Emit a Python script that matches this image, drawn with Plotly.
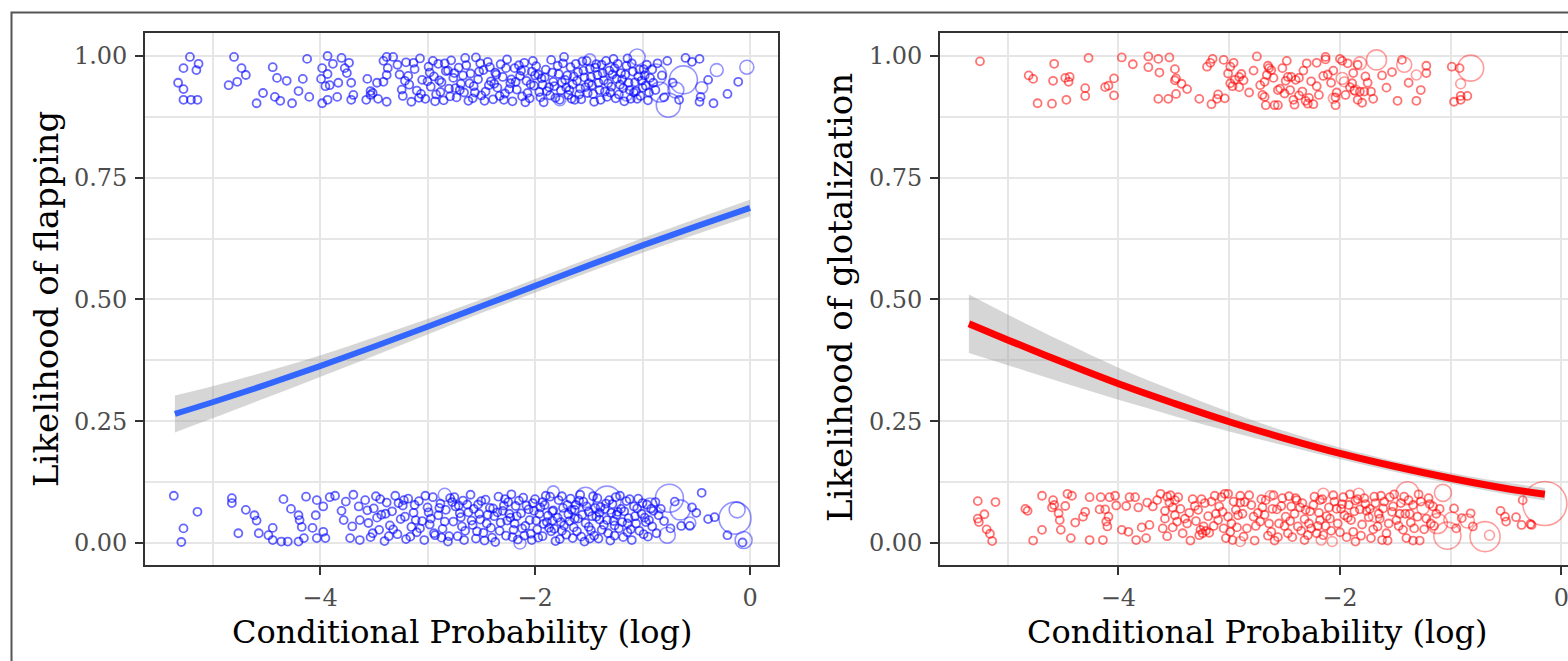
import plotly.graph_objects as go

W, H = 1568, 661
FONT = "DejaVu Serif"

# ---------------- Left panel: flapping ----------------
flap_top = [
    (-5.21, 0.998), (-5.27, 0.975), (-5.15, 0.971), (-5.13, 0.984), (-5.32, 0.945), (-5.27, 0.932),
    (-5.27, 0.910), (-5.20, 0.910), (-5.14, 0.910), (-4.80, 0.998), (-4.73, 0.975), (-4.69, 0.961),
    (-4.77, 0.947), (-4.85, 0.940), (-4.59, 0.903), (-4.53, 0.924), (-4.44, 0.977), (-4.40, 0.955),
    (-4.31, 0.949), (-4.42, 0.916), (-4.37, 0.908), (-4.26, 0.903), (-4.20, 0.928), (-4.16, 0.953),
    (-4.12, 0.994), (-4.10, 0.916), (-3.98, 0.975), (-3.93, 1.000), (-3.93, 0.963), (-3.99, 0.953),
    (-3.95, 0.938), (-3.91, 0.940), (-3.83, 0.945), (-3.88, 0.984), (-3.80, 0.996), (-3.73, 0.986),
    (-3.77, 0.975), (-3.75, 0.965), (-3.71, 0.945), (-3.69, 0.920), (-3.71, 0.910), (-3.98, 0.903),
    (-3.93, 0.910), (-3.84, 0.916), (-3.56, 0.953), (-3.57, 0.910), (-3.53, 0.920), (-3.51, 0.924),
    (-3.46, 0.912), (-3.38, 0.906), (-3.53, 0.928), (-3.47, 0.945), (-3.41, 0.947), (-3.38, 0.961),
    (-3.37, 0.975), (-3.41, 0.990), (-3.38, 0.998), (-3.32, 0.998), (-3.28, 0.982),
    (-3.26, 0.962), (-3.23, 0.918), (-3.20, 0.987), (-3.17, 0.941), (-3.15, 0.906), (-3.12, 0.973),
    (-3.10, 0.929), (-3.07, 0.995), (-3.05, 0.951), (-3.02, 0.912), (-2.99, 0.978), (-2.97, 0.937),
    (-2.94, 0.958), (-2.92, 0.921), (-2.90, 0.984), (-2.87, 0.946), (-2.85, 0.909), (-2.83, 0.969),
    (-2.80, 0.933), (-2.78, 0.991), (-2.76, 0.955), (-2.73, 0.915), (-2.71, 0.976), (-2.69, 0.943),
    (-2.66, 0.925), (-2.64, 0.981), (-2.62, 0.908), (-2.60, 0.964), (-2.57, 0.938), (-2.55, 0.997),
    (-2.53, 0.952), (-2.50, 0.919), (-2.48, 0.971), (-2.46, 0.927), (-2.44, 0.988), (-2.41, 0.948),
    (-2.39, 0.911), (-2.37, 0.966), (-2.35, 0.935), (-2.32, 0.983), (-2.30, 0.957), (-2.28, 0.923),
    (-2.26, 0.993), (-2.23, 0.944), (-2.21, 0.907), (-2.19, 0.975), (-2.17, 0.931), (-2.14, 0.959),
    (-2.12, 0.917), (-2.10, 0.986), (-2.08, 0.949), (-2.05, 0.913), (-2.03, 0.968), (-2.01, 0.939),
    (-1.99, 0.979), (-1.96, 0.926), (-1.94, 0.954), (-1.92, 0.905), (-1.90, 0.972), (-1.87, 0.936),
    (-1.85, 0.992), (-1.83, 0.947), (-1.81, 0.914), (-1.78, 0.963), (-1.76, 0.929), (-1.74, 0.985),
    (-1.72, 0.951), (-1.69, 0.920), (-1.67, 0.977), (-1.65, 0.942), (-1.63, 0.910), (-1.60, 0.967),
    (-1.58, 0.933), (-1.56, 0.989), (-1.54, 0.956), (-1.51, 0.924), (-1.49, 0.974), (-1.47, 0.940),
    (-1.45, 0.906), (-1.42, 0.961), (-1.40, 0.930), (-1.38, 0.982), (-1.36, 0.950), (-1.33, 0.916),
    (-1.31, 0.970), (-1.29, 0.937), (-1.27, 0.994), (-1.24, 0.953), (-1.22, 0.921), (-1.20, 0.965),
    (-1.18, 0.934), (-1.15, 0.980), (-1.13, 0.945), (-1.11, 0.912), (-1.09, 0.968), (-1.06, 0.928),
    (-1.04, 0.958), (-1.02, 0.918), (-0.99, 0.973), (-0.97, 0.939), (-0.95, 0.909), (-0.93, 0.955),
    (-3.24, 0.931), (-3.18, 0.959), (-3.08, 0.914), (-3.00, 0.948), (-2.95, 0.990), (-2.88, 0.926),
    (-2.81, 0.970), (-2.74, 0.934), (-2.67, 0.960), (-2.58, 0.913), (-2.51, 0.985), (-2.43, 0.940),
    (-2.36, 0.962), (-2.29, 0.910), (-2.22, 0.952), (-2.15, 0.981), (-2.07, 0.924), (-2.00, 0.960),
    (-1.93, 0.941), (-1.86, 0.919), (-1.79, 0.980), (-1.71, 0.935), (-1.64, 0.958), (-1.57, 0.911),
    (-1.50, 0.944), (-1.43, 0.983), (-1.35, 0.927), (-1.28, 0.962), (-1.21, 0.941), (-1.14, 0.995),
    (-1.08, 0.925), (-1.01, 0.949), (-0.96, 0.982),
    (-3.21, 0.949), (-3.13, 0.986), (-3.06, 0.922), (-2.98, 0.966), (-2.93, 0.907), (-2.89, 0.950),
    (-2.84, 0.985), (-2.79, 0.917), (-2.75, 0.965), (-2.70, 0.930), (-2.65, 0.996), (-2.61, 0.944),
    (-2.56, 0.925), (-2.52, 0.968), (-2.47, 0.908), (-2.42, 0.977), (-2.38, 0.943), (-2.33, 0.918),
    (-2.27, 0.975), (-2.24, 0.932), (-2.18, 0.947), (-2.13, 0.970), (-2.09, 0.905), (-2.04, 0.942),
    (-2.02, 0.990), (-1.97, 0.962), (-1.95, 0.915), (-1.91, 0.956), (-1.89, 0.928), (-1.84, 0.966),
    (-1.82, 0.938), (-1.77, 0.910), (-1.75, 0.946), (-1.73, 0.998), (-1.70, 0.960), (-1.68, 0.930),
    (-1.66, 0.912), (-1.62, 0.984), (-1.61, 0.949), (-1.59, 0.921), (-1.55, 0.970), (-1.53, 0.936),
    (-1.52, 0.990), (-1.48, 0.957), (-1.46, 0.922), (-1.44, 0.976), (-1.41, 0.945), (-1.39, 0.910),
    (-1.37, 0.965), (-1.34, 0.990), (-1.32, 0.944), (-1.30, 0.925), (-1.26, 0.975), (-1.25, 0.913),
    (-1.23, 0.984), (-1.19, 0.952), (-1.17, 0.907), (-1.16, 0.962), (-1.12, 0.930), (-1.10, 0.985),
    (-1.07, 0.946), (-1.05, 0.912), (-1.03, 0.972), (-1.00, 0.935), (-0.98, 0.960), (-0.94, 0.925),
    (-0.91, 0.972), (-0.90, 0.945),
    (-0.88, 0.930), (-0.82, 0.960), (-0.77, 0.990), (-0.72, 0.945), (-0.66, 0.910), (-0.86, 0.985),
    (-0.80, 0.915), (-0.60, 0.996), (-0.54, 0.988), (-0.47, 0.994), (-0.39, 0.951), (-0.21, 0.922),
    (-0.34, 0.903), (-0.47, 0.906), (-0.46, 0.916), (-0.11, 0.947),
]

flap_bottom = [
    (-5.36, 0.097), (-5.14, 0.064), (-5.27, 0.030), (-5.29, 0.002), (-4.82, 0.092), (-4.82, 0.082),
    (-4.69, 0.068), (-4.61, 0.057), (-4.59, 0.046), (-4.76, 0.020), (-4.57, 0.020), (-4.48, 0.016),
    (-4.44, 0.031), (-4.34, 0.090), (-4.27, 0.070), (-4.20, 0.057), (-4.19, 0.047), (-4.44, 0.006),
    (-4.36, 0.003), (-4.30, 0.003), (-4.20, 0.003), (-4.15, 0.010), (-4.13, 0.095), (-4.03, 0.088),
    (-4.04, 0.057), (-4.17, 0.033), (-4.07, 0.031), (-3.97, 0.023), (-4.03, 0.010), (-3.95, 0.010),
    (-3.97, 0.075), (-3.91, 0.094), (-3.86, 0.097), (-3.80, 0.066), (-3.76, 0.085), (-3.78, 0.047),
    (-3.69, 0.099), (-3.64, 0.075), (-3.70, 0.034), (-3.63, 0.047), (-3.72, 0.010), (-3.63, 0.006),
    (-3.58, 0.088), (-3.55, 0.041), (-3.53, 0.012), (-3.50, 0.071), (-3.48, 0.096), (-3.45, 0.027),
    (-3.43, 0.058), (-3.40, 0.004), (-3.38, 0.083), (-3.35, 0.036), (-3.33, 0.065), (-3.30, 0.097),
    (-3.28, 0.018), (-3.25, 0.049), (-3.23, 0.077), (-3.20, 0.008), (-3.18, 0.091), (-3.15, 0.033),
    (-3.13, 0.062), (-3.10, 0.022), (-3.08, 0.086), (-3.05, 0.045), (-3.03, 0.006), (-3.00, 0.073),
    (-2.98, 0.038), (-2.95, 0.094), (-2.93, 0.016), (-2.90, 0.057), (-2.88, 0.081), (-2.86, 0.029),
    (-2.83, 0.068), (-2.81, 0.003), (-2.79, 0.092), (-2.76, 0.044), (-2.74, 0.075), (-2.72, 0.014),
    (-2.69, 0.053), (-2.67, 0.087), (-2.65, 0.025), (-2.62, 0.063), (-2.60, 0.099), (-2.58, 0.037),
    (-2.55, 0.009), (-2.53, 0.079), (-2.51, 0.048), (-2.48, 0.021), (-2.46, 0.089), (-2.44, 0.058),
    (-2.41, 0.031), (-2.39, 0.071), (-2.37, 0.002), (-2.34, 0.095), (-2.32, 0.042), (-2.30, 0.066),
    (-2.27, 0.015), (-2.25, 0.084), (-2.23, 0.052), (-2.20, 0.027), (-2.18, 0.076), (-2.16, 0.007),
    (-2.13, 0.061), (-2.11, 0.093), (-2.09, 0.035), (-2.06, 0.069), (-2.04, 0.019), (-2.02, 0.082),
    (-1.99, 0.046), (-1.97, 0.011), (-1.95, 0.073), (-1.92, 0.039), (-1.90, 0.097), (-1.88, 0.056),
    (-1.85, 0.024), (-1.83, 0.067), (-1.81, 0.004), (-1.78, 0.088), (-1.76, 0.043), (-1.74, 0.072),
    (-1.71, 0.017), (-1.69, 0.059), (-1.67, 0.091), (-1.64, 0.032), (-1.62, 0.078), (-1.60, 0.050),
    (-1.57, 0.013), (-1.55, 0.085), (-1.53, 0.041), (-1.50, 0.064), (-1.48, 0.026), (-1.46, 0.096),
    (-1.43, 0.054), (-1.41, 0.009), (-1.39, 0.074), (-1.36, 0.037), (-1.34, 0.081), (-1.32, 0.020),
    (-1.29, 0.062), (-1.27, 0.045), (-1.25, 0.094), (-1.22, 0.030), (-1.20, 0.070), (-1.18, 0.012),
    (-1.15, 0.086), (-1.13, 0.051), (-1.11, 0.028), (-1.08, 0.075), (-1.06, 0.040), (-1.04, 0.091),
    (-1.01, 0.060), (-0.99, 0.018), (-0.96, 0.079), (-0.94, 0.047), (-0.91, 0.034), (-0.88, 0.084),
    (-0.85, 0.057),
    (-3.47, 0.052), (-3.36, 0.014), (-3.22, 0.088), (-3.11, 0.047), (-2.99, 0.063), (-2.87, 0.011),
    (-2.77, 0.084), (-2.68, 0.034), (-2.57, 0.070), (-2.47, 0.005), (-2.38, 0.055), (-2.28, 0.090),
    (-2.19, 0.040), (-2.10, 0.015), (-2.01, 0.066), (-1.93, 0.084), (-1.84, 0.046), (-1.75, 0.025),
    (-1.66, 0.068), (-1.58, 0.099), (-1.49, 0.009), (-1.40, 0.048), (-1.31, 0.088), (-1.23, 0.064),
    (-1.14, 0.022), (-1.05, 0.071), (-0.97, 0.043), (-0.90, 0.066), (-2.24, 0.060), (-1.87, 0.031),
    (-1.63, 0.050), (-1.44, 0.072), (-1.26, 0.015), (-2.52, 0.060), (-2.71, 0.077),
    (-3.56, 0.067), (-3.51, 0.020), (-3.44, 0.090), (-3.39, 0.060), (-3.32, 0.028), (-3.27, 0.082),
    (-3.21, 0.054), (-3.16, 0.013), (-3.12, 0.078), (-3.07, 0.030), (-3.02, 0.097), (-2.97, 0.050),
    (-2.94, 0.020), (-2.89, 0.072), (-2.84, 0.044), (-2.80, 0.014), (-2.75, 0.094), (-2.70, 0.061),
    (-2.66, 0.006), (-2.63, 0.079), (-2.59, 0.046), (-2.54, 0.024), (-2.50, 0.086), (-2.45, 0.040),
    (-2.42, 0.072), (-2.40, 0.011), (-2.35, 0.063), (-2.33, 0.025), (-2.29, 0.077), (-2.26, 0.046),
    (-2.22, 0.100), (-2.21, 0.012), (-2.17, 0.055), (-2.15, 0.087), (-2.12, 0.030), (-2.08, 0.077),
    (-2.05, 0.047), (-2.03, 0.006), (-2.00, 0.090), (-1.98, 0.028), (-1.96, 0.060), (-1.93, 0.014),
    (-1.91, 0.078), (-1.89, 0.043), (-1.86, 0.095), (-1.84, 0.065), (-1.82, 0.029), (-1.79, 0.052),
    (-1.77, 0.008), (-1.75, 0.096), (-1.73, 0.036), (-1.70, 0.078), (-1.68, 0.045), (-1.65, 0.010),
    (-1.63, 0.068), (-1.61, 0.024), (-1.59, 0.087), (-1.56, 0.058), (-1.54, 0.003), (-1.52, 0.075),
    (-1.50, 0.033), (-1.47, 0.055), (-1.45, 0.015), (-1.42, 0.092), (-1.40, 0.062), (-1.38, 0.027),
    (-1.35, 0.070), (-1.33, 0.047), (-1.30, 0.005), (-1.28, 0.080), (-1.26, 0.036), (-1.24, 0.058),
    (-1.21, 0.097), (-1.19, 0.043), (-1.17, 0.065), (-1.14, 0.040), (-1.12, 0.090), (-1.10, 0.006),
    (-1.07, 0.055), (-1.03, 0.025), (-1.00, 0.082), (-0.98, 0.052), (-0.95, 0.013), (-0.92, 0.070),
    (-0.87, 0.020), (-0.83, 0.070), (-0.80, 0.045), (-0.74, 0.030), (-0.70, 0.085),
    (-0.45, 0.103), (-0.39, 0.049), (-0.33, 0.053), (-0.54, 0.073), (-0.50, 0.062), (-0.64, 0.035),
    (-0.56, 0.035), (-0.07, 0.001), (-0.21, 0.016),
]

# (x, y, token count) for the heavier items
flap_big = [
    (-1.05, 0.998, 5.2), (-0.84, 0.926, 8.2), (-0.76, 0.899, 11.8), (-0.88, 0.961, 9.9),
    (-0.62, 0.951, 16.0), (-1.30, 0.971, 4.0), (-1.49, 0.992, 2.9), (-0.31, 0.971, 3.4),
    (-0.03, 0.977, 4.0), (-1.77, 0.910, 2.9), (-0.69, 0.930, 5.2), (-1.15, 0.920, 2.9),
    (-2.10, 0.970, 2.0), (-0.45, 0.935, 2.9),
    (-1.33, 0.088, 16.0), (-1.53, 0.094, 8.2), (-0.75, 0.092, 16.0), (-0.65, 0.068, 8.2),
    (-0.14, 0.051, 20.9), (-0.06, 0.006, 5.9), (-0.12, 0.068, 5.2), (-0.77, 0.016, 5.2),
    (-1.83, 0.105, 2.9), (-2.84, 0.099, 3.4), (-2.14, 0.000, 2.9), (-1.72, 0.057, 2.9),
    (-0.56, 0.041, 2.9), (-0.93, 0.078, 4.0),
]

flap_fit_x = [-5.35, -5.0, -4.5, -4.0, -3.5, -3.0, -2.5, -2.0, -1.5, -1.0, -0.5, 0.0]
flap_fit_y = [0.265, 0.289, 0.325, 0.363, 0.403, 0.444, 0.486, 0.528, 0.570, 0.611, 0.650, 0.688]
flap_fit_lo = [0.227, 0.256, 0.298, 0.341, 0.384, 0.428, 0.472, 0.514, 0.556, 0.596, 0.634, 0.671]
flap_fit_hi = [0.303, 0.322, 0.352, 0.385, 0.422, 0.460, 0.500, 0.542, 0.584, 0.626, 0.666, 0.705]

# ---------------- Right panel: glottalization ----------------
glot_top = [
    (-5.25, 0.989), (-4.81, 0.960), (-4.77, 0.953), (-4.58, 0.984), (-4.59, 0.949), (-4.48, 0.955),
    (-4.44, 0.957), (-4.45, 0.947), (-4.73, 0.903), (-4.60, 0.902), (-4.47, 0.910), (-4.30, 0.918),
    (-4.30, 0.934), (-4.27, 0.996), (-4.12, 0.936), (-4.09, 0.939), (-4.04, 0.954), (-4.04, 0.919),
    (-3.97, 0.997), (-3.87, 0.983), (-3.73, 0.999), (-3.73, 0.977), (-3.64, 0.994), (-3.54, 0.997),
    (-3.49, 0.973), (-3.63, 0.966), (-3.48, 0.954), (-3.49, 0.950), (-3.43, 0.943), (-3.38, 0.932),
    (-3.48, 0.922), (-3.55, 0.912), (-3.64, 0.912), (-3.27, 0.912), (-3.20, 0.978), (-3.17, 0.986),
    (-3.15, 0.994), (-3.05, 0.992), (-2.96, 0.986), (-3.16, 0.901), (-3.11, 0.912), (-3.10, 0.921),
    (-3.04, 0.913), (-2.99, 0.978), (-3.01, 0.964), (-2.99, 0.944), (-2.95, 0.951), (-2.91, 0.957),
    (-2.89, 0.963), (-2.97, 0.938), (-2.91, 0.936), (-2.75, 0.999), (-2.65, 0.980), (-2.66, 0.961),
    (-2.68, 0.947), (-2.64, 0.975), (-2.62, 0.971), (-2.70, 0.920), (-2.68, 0.916), (-2.67, 0.899),
    (-2.59, 0.899), (-2.56, 0.899), (-2.56, 0.930), (-2.54, 0.933), (-2.50, 0.923), (-2.49, 0.949),
    (-2.47, 0.957), (-2.44, 0.957), (-2.40, 0.951), (-2.37, 0.955), (-2.48, 0.990), (-2.41, 0.900),
    (-2.42, 0.910), (-2.37, 0.919), (-2.34, 0.927), (-2.31, 0.908), (-2.29, 0.902), (-2.24, 0.901),
    (-2.28, 0.914), (-2.21, 0.938), (-2.30, 0.985), (-2.21, 0.986), (-2.15, 0.959), (-2.13, 0.993),
    (-2.13, 0.998), (-2.11, 0.962), (-2.04, 0.915), (-2.04, 0.899), (-2.03, 0.925), (-2.00, 0.994),
    (-1.98, 0.990), (-1.93, 0.985), (-1.91, 0.936), (-1.89, 0.944), (-1.87, 0.929), (-1.84, 0.982),
    (-1.82, 0.927), (-1.78, 0.927), (-1.77, 0.958), (-1.80, 0.904), (-1.72, 0.927), (-1.53, 0.967),
    (-1.48, 0.908), (-1.44, 0.992), (-1.31, 0.908), (-1.22, 0.980), (-1.22, 0.965), (-0.99, 0.978),
    (-0.92, 0.975), (-0.97, 0.906), (-0.91, 0.910), (-0.85, 0.918), (-0.91, 0.918), (-1.84, 0.910),
    (-2.87, 0.950), (-2.82, 0.925), (-2.78, 0.970), (-2.72, 0.940), (-2.60, 0.955), (-2.52, 0.975),
    (-2.45, 0.930), (-2.33, 0.970), (-2.26, 0.948), (-2.19, 0.920), (-2.08, 0.945), (-2.06, 0.970),
    (-1.95, 0.920), (-1.88, 0.965), (-1.75, 0.945), (-1.70, 0.912), (-1.62, 0.960), (-1.58, 0.935),
    (-1.38, 0.945), (-1.27, 0.930),
]

glot_bottom = [
    (-5.27, 0.086), (-5.11, 0.084), (-5.21, 0.059), (-5.27, 0.050), (-5.26, 0.043), (-5.19, 0.028),
    (-5.16, 0.019), (-5.14, 0.004), (-4.84, 0.070), (-4.82, 0.066), (-4.77, 0.005), (-4.69, 0.097),
    (-4.59, 0.088), (-4.58, 0.078), (-4.60, 0.073), (-4.54, 0.061), (-4.53, 0.047), (-4.52, 0.027),
    (-4.69, 0.027), (-4.48, 0.076), (-4.46, 0.101), (-4.42, 0.097), (-4.43, 0.010), (-4.39, 0.042),
    (-4.32, 0.054), (-4.30, 0.064), (-4.26, 0.094), (-4.26, 0.006), (-4.17, 0.069), (-4.12, 0.069),
    (-4.16, 0.094), (-4.08, 0.094), (-4.14, 0.006), (-4.03, 0.097), (-4.11, 0.044), (-4.09, 0.054),
    (-4.10, 0.034), (-4.02, 0.077), (-3.93, 0.076), (-3.90, 0.094), (-3.85, 0.094), (-3.97, 0.027),
    (-3.91, 0.023), (-3.79, 0.032), (-3.84, 0.006), (-3.75, 0.010), (-3.72, 0.037), (-3.82, 0.073),
    (-3.74, 0.083), (-3.69, 0.075), (-3.65, 0.088), (-3.62, 0.101), (-3.56, 0.095), (-3.58, 0.066),
    (-3.60, 0.030), (-3.54, 0.083), (-3.51, 0.073), (-3.49, 0.057), (-3.47, 0.044), (-3.51, 0.032),
    (-3.56, 0.014), (-3.49, 0.088), (-3.46, 0.094), (-3.35, 0.005), (-3.27, 0.016), (-3.24, 0.020),
    (-3.21, 0.025), (-3.26, 0.027), (-3.18, 0.021), (-3.23, 0.034), (-3.28, 0.068), (-3.31, 0.076),
    (-3.22, 0.082), (-3.16, 0.085), (-3.13, 0.097), (-3.07, 0.094), (-3.04, 0.101), (-3.01, 0.101),
    (-3.10, 0.047), (-3.01, 0.054), (-3.06, 0.064), (-2.94, 0.068), (-2.92, 0.057), (-2.98, 0.040),
    (-2.99, 0.023), (-3.03, 0.010), (-2.87, 0.013), (-2.90, 0.083), (-2.86, 0.084), (-2.80, 0.078),
    (-2.78, 0.054), (-2.77, 0.005), (-2.72, 0.044), (-2.70, 0.073), (-2.67, 0.088), (-2.59, 0.005),
    (-2.62, 0.023), (-2.57, 0.069), (-2.52, 0.092), (-2.49, 0.054), (-2.47, 0.020), (-2.44, 0.075),
    (-2.39, 0.088), (-2.36, 0.073), (-2.32, 0.049), (-2.29, 0.016), (-2.38, 0.034), (-2.26, 0.030),
    (-2.21, 0.020), (-2.15, 0.016), (-2.18, 0.047), (-2.18, 0.088), (-2.10, 0.073), (-2.05, 0.085),
    (-1.97, 0.094), (-1.96, 0.057), (-1.92, 0.078), (-1.90, 0.047), (-1.88, 0.023), (-1.82, 0.069),
    (-1.78, 0.092), (-1.74, 0.053), (-1.72, 0.010), (-1.68, 0.082), (-1.66, 0.034), (-1.63, 0.097),
    (-1.61, 0.071), (-1.55, 0.094), (-1.53, 0.064), (-1.49, 0.047), (-1.45, 0.082), (-1.43, 0.027),
    (-1.38, 0.088), (-1.34, 0.078), (-1.30, 0.054), (-1.40, 0.010), (-1.34, 0.005), (-1.28, 0.005),
    (-1.20, 0.092), (-1.18, 0.040), (-0.97, 0.071), (-0.90, 0.051), (-0.82, 0.061), (-0.80, 0.034),
    (-0.55, 0.066), (-0.51, 0.054), (-0.41, 0.053), (-0.36, 0.037), (-0.35, 0.088), (-0.28, 0.039),
    (-0.50, 0.044), (-0.27, 0.037),
    (-3.40, 0.050), (-3.33, 0.090), (-3.12, 0.060), (-2.96, 0.085), (-2.84, 0.030), (-2.74, 0.062),
    (-2.65, 0.015), (-2.55, 0.040), (-2.46, 0.096), (-2.41, 0.060), (-2.34, 0.082), (-2.27, 0.065),
    (-2.23, 0.095), (-2.20, 0.035), (-2.12, 0.055), (-2.08, 0.025), (-2.02, 0.040), (-1.99, 0.070),
    (-1.94, 0.012), (-1.86, 0.087), (-1.80, 0.038), (-1.76, 0.066), (-1.70, 0.028), (-1.64, 0.050),
    (-1.58, 0.020), (-1.51, 0.100), (-1.47, 0.035), (-1.41, 0.060), (-1.36, 0.042), (-1.27, 0.085),
    (-1.24, 0.028), (-1.16, 0.075), (-1.13, 0.060), (-2.60, 0.098), (-2.90, 0.097), (-3.38, 0.040),
    (-2.32, 0.006), (-1.86, 0.003), (-1.57, 0.005), (-1.62, 0.006),
    (-3.58, 0.050), (-3.53, 0.098), (-3.44, 0.070), (-3.42, 0.020), (-3.36, 0.062), (-3.30, 0.045),
    (-3.25, 0.090), (-3.19, 0.055), (-3.14, 0.035), (-3.09, 0.075), (-3.05, 0.030), (-2.97, 0.006),
    (-2.93, 0.032), (-2.88, 0.060), (-2.82, 0.098), (-2.76, 0.035), (-2.71, 0.090), (-2.68, 0.058),
    (-2.64, 0.040), (-2.61, 0.070), (-2.56, 0.012), (-2.53, 0.076), (-2.50, 0.035), (-2.45, 0.045),
    (-2.43, 0.012), (-2.40, 0.092), (-2.35, 0.025), (-2.31, 0.068), (-2.28, 0.040), (-2.24, 0.078),
    (-2.19, 0.062), (-2.16, 0.090), (-2.13, 0.035), (-2.09, 0.050), (-2.06, 0.098), (-2.03, 0.070),
    (-2.00, 0.022), (-1.98, 0.080), (-1.93, 0.052), (-1.91, 0.100), (-1.87, 0.065), (-1.84, 0.090),
    (-1.81, 0.015), (-1.77, 0.080), (-1.73, 0.070), (-1.69, 0.095), (-1.65, 0.060), (-1.60, 0.085),
    (-1.56, 0.040), (-1.52, 0.075), (-1.46, 0.060), (-1.42, 0.095), (-1.37, 0.060), (-1.33, 0.030),
    (-1.29, 0.100), (-1.22, 0.050), (-1.19, 0.080), (-1.15, 0.035), (-1.10, 0.070), (-0.95, 0.030),
]

glot_big = [
    (-1.67, 0.992, 8.2), (-1.42, 0.982, 4.6), (-0.82, 0.975, 13.8), (-1.82, 0.985, 3.4),
    (-1.31, 0.961, 2.0), (-0.91, 0.943, 2.0), (-1.98, 0.954, 2.9), (-2.06, 0.913, 2.0),
    (-1.96, 0.947, 2.0), (-1.86, 0.930, 2.0),
    (-0.15, 0.081, 39.5), (-1.39, 0.102, 10.8), (-1.07, 0.103, 5.9), (-1.12, 0.040, 8.2),
    (-1.03, 0.015, 14.9), (-0.69, 0.013, 18.4), (-0.99, 0.047, 5.2), (-1.68, 0.057, 4.0),
    (-1.25, 0.071, 2.9), (-0.85, 0.045, 4.0), (-2.90, 0.003, 2.0), (-2.63, 0.097, 2.0),
    (-2.17, 0.006, 2.0), (-2.07, 0.003, 2.0), (-2.15, 0.101, 2.5), (-1.83, 0.101, 2.5),
    (-0.65, 0.016, 2.0),
]

glot_fit_x = [-5.35, -5.0, -4.5, -4.0, -3.5, -3.0, -2.5, -2.0, -1.5, -1.0, -0.5, -0.15]
glot_fit_y = [0.450, 0.417, 0.371, 0.327, 0.287, 0.249, 0.215, 0.184, 0.157, 0.133, 0.112, 0.100]
glot_fit_lo = [0.390, 0.365, 0.329, 0.294, 0.261, 0.229, 0.200, 0.172, 0.146, 0.122, 0.100, 0.087]
glot_fit_hi = [0.510, 0.469, 0.413, 0.360, 0.313, 0.269, 0.230, 0.196, 0.168, 0.144, 0.124, 0.113]

x_tick_vals = [-4, -2, 0]
x_tick_text = ["\u22124", "\u22122", "0"]
x_minor_vals = [-5, -3, -1]
y_tick_vals = [0, 0.25, 0.5, 0.75, 1.0]
y_tick_text = ["0.00", "0.25", "0.50", "0.75", "1.00"]
y_minor_vals = [0.125, 0.375, 0.625, 0.875]

x_title = "Conditional Probability (log)"
y_title_left = "Likelihood of flapping"
y_title_right = "Likelihood of glotalization"


def col(pts, i):
    return [p[i] for p in pts]


fig = go.Figure()


def add_panel(top, bottom, big, fx, fy, flo, fhi, pt_color, line_color, lw, xa, ya):
    pts = top + bottom
    fig.add_trace(go.Scatter(
        x=col(pts, 0), y=col(pts, 1), mode="markers", xaxis=xa, yaxis=ya,
        marker=dict(symbol="circle-open", size=8, color=pt_color,
                    line=dict(width=1.8, color=pt_color)),
        hoverinfo="skip", showlegend=False))
    fig.add_trace(go.Scatter(
        x=col(big, 0), y=col(big, 1), mode="markers", xaxis=xa, yaxis=ya,
        marker=dict(symbol="circle-open", size=col(big, 2), sizemode="area",
                    sizeref=1 / 24.5, color=pt_color,
                    line=dict(width=1.6, color=pt_color)),
        hoverinfo="skip", showlegend=False))
    fig.add_trace(go.Scatter(
        x=fx, y=flo, mode="lines", line=dict(width=0, shape="spline"),
        xaxis=xa, yaxis=ya, hoverinfo="skip", showlegend=False))
    fig.add_trace(go.Scatter(
        x=fx, y=fhi, mode="lines", line=dict(width=0, shape="spline"),
        fill="tonexty", fillcolor="rgba(153,153,153,0.4)",
        xaxis=xa, yaxis=ya, hoverinfo="skip", showlegend=False))
    fig.add_trace(go.Scatter(
        x=fx, y=fy, mode="lines", line=dict(color=line_color, width=lw, shape="spline"),
        xaxis=xa, yaxis=ya, hoverinfo="skip", showlegend=False))


add_panel(flap_top, flap_bottom, flap_big, flap_fit_x, flap_fit_y, flap_fit_lo, flap_fit_hi,
          "rgba(0,0,255,0.6)", "#3366FF", 6, "x", "y")
add_panel(glot_top, glot_bottom, glot_big, glot_fit_x, glot_fit_y, glot_fit_lo, glot_fit_hi,
          "rgba(255,0,0,0.55)", "#FF0000", 7, "x2", "y2")

GRID = "#E6E6E6"
AXC = "#333333"
tickfont = dict(family=FONT, size=24, color="#4D4D4D")


def xax(domain, rng, mirror, anchor):
    return dict(domain=domain, range=rng, anchor=anchor, tickmode="array",
                tickvals=x_tick_vals, ticktext=x_tick_text,
                showgrid=True, gridcolor=GRID, gridwidth=2.2,
                minor=dict(tickvals=x_minor_vals, showgrid=True, gridcolor=GRID,
                           gridwidth=1.5, ticks=""),
                ticks="outside", ticklen=8, tickwidth=2, tickcolor=AXC,
                tickfont=tickfont, showline=True, linecolor=AXC, linewidth=1.6,
                mirror=mirror, zeroline=False, ticklabeloverflow="allow",
                ticklabelstandoff=2)


def yax(domain, mirror, anchor):
    return dict(domain=domain, range=[-0.0452, 1.0472], anchor=anchor, tickmode="array",
                tickvals=y_tick_vals, ticktext=y_tick_text,
                showgrid=True, gridcolor=GRID, gridwidth=2.2,
                minor=dict(tickvals=y_minor_vals, showgrid=True, gridcolor=GRID,
                           gridwidth=1.5, ticks=""),
                ticks="outside", ticklen=8, tickwidth=2, tickcolor=AXC,
                tickfont=tickfont, showline=True, linecolor=AXC, linewidth=1.6,
                mirror=mirror, zeroline=False, ticklabelstandoff=3)


ydom = [(H - 565) / H, (H - 33) / H]
fig.update_layout(
    width=W, height=H, margin=dict(l=0, r=0, t=0, b=0),
    paper_bgcolor="white", plot_bgcolor="white", showlegend=False,
    xaxis=xax([145 / W, 778 / W], [-5.628, 0.26], True, "y"),
    yaxis=yax(ydom, True, "x"),
    xaxis2=xax([940 / W, 1.0], [-5.611, 0.059], True, "y2"),
    yaxis2=yax(ydom, False, "x2"),
)

x_title_font = dict(family=FONT, size=32, color="black")
y_title_font = dict(family=FONT, size=34, color="black")
fig.add_annotation(x=462 / W, y=1 - 632 / H, xref="paper", yref="paper", text=x_title,
                   showarrow=False, font=x_title_font, xanchor="center", yanchor="middle")
fig.add_annotation(x=1257 / W, y=1 - 632 / H, xref="paper", yref="paper", text=x_title,
                   showarrow=False, font=x_title_font, xanchor="center", yanchor="middle")
fig.add_annotation(x=46 / W, y=1 - 299 / H, xref="paper", yref="paper", text=y_title_left,
                   showarrow=False, font=y_title_font, textangle=-90,
                   xanchor="center", yanchor="middle")
fig.add_annotation(x=840 / W, y=1 - 298 / H, xref="paper", yref="paper", text=y_title_right,
                   showarrow=False, font=y_title_font, textangle=-90,
                   xanchor="center", yanchor="middle")

# outer frame of the figure
fig.add_shape(type="rect", xref="paper", yref="paper",
              x0=11.5 / W, x1=1.05, y0=-0.05, y1=1 - 12.5 / H,
              line=dict(color="#555555", width=2), fillcolor="rgba(0,0,0,0)", layer="above")

fig.write_html("out.html")
